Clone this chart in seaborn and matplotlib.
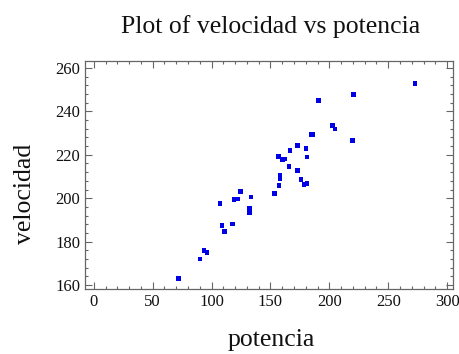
import matplotlib
matplotlib.use("Agg")
import matplotlib.pyplot as plt
import seaborn as sns
import pandas as pd
from matplotlib.ticker import MultipleLocator

potencia = [72, 90, 93.5, 96, 107, 109, 111, 118, 119, 122, 124.6, 133.6, 132, 132,
            153.6, 157.3, 158, 158, 157, 160.2, 162.4, 165.8, 166.7, 172.9, 172.9,
            176, 178.6, 181.1, 180.2, 181.1, 184.5, 185.9, 190.7, 202.8, 204.8,
            220.3, 219.7, 272.6]
velocidad = [163, 172, 176, 175, 197.5, 187.5, 184.6, 188.2, 199.5, 199.6, 203.2, 200.6,
             195.3, 193.3, 202.1, 205.9, 209.2, 210.6, 219.1, 217.9, 218, 214.7, 221.9,
             224.4, 212.9, 208.5, 206.2, 206.7, 222.8, 219, 229.3, 229.3, 244.9, 233.6,
             231.9, 247.9, 226.5, 252.8]
xticks = [0, 50, 100, 150, 200, 250, 300]
yticks = [160, 180, 200, 220, 240, 260]

df = pd.DataFrame({"potencia": potencia, "velocidad": velocidad})

sns.set_style("ticks")
plt.rcParams['font.family'] = ['Liberation Serif', 'DejaVu Serif']

fig = plt.figure(figsize=(4.59, 3.54), dpi=100)
ax = fig.add_axes([85/459, 1-289/354, (453-85)/459, (289-61)/354])

sns.scatterplot(data=df, x="potencia", y="velocidad", ax=ax, marker="s", s=11,
                color="#0000e6", edgecolor="none", linewidth=0)

ax.set_xlim(-7.5, 305)
ax.set_ylim(158.2, 263.2)
ax.set_xticks(xticks)
ax.set_yticks(yticks)
ax.xaxis.set_minor_locator(MultipleLocator(10))
ax.yaxis.set_minor_locator(MultipleLocator(4))
ax.tick_params(which="both", direction="in", top=True, right=True, color="#666666",
               labelsize=12, labelcolor="#111111", width=0.8)
ax.tick_params(which="major", length=5)
ax.tick_params(which="minor", length=2.5)
for sp in ax.spines.values():
    sp.set_color("#666666")
    sp.set_linewidth(0.9)

ax.set_xlabel("")
ax.set_ylabel("")
fig.text(271/459, 1-33/354, "Plot of velocidad vs potencia", ha="center", va="baseline",
         fontsize=18.5, color="#111111")
fig.text(271/459, 1-346/354, "potencia", ha="center", va="baseline", fontsize=18.5,
         color="#111111")
fig.text(25/459, 1-194/354, "velocidad", ha="center", va="center", rotation=90,
         fontsize=18.5, color="#111111")

fig.savefig("out.png", dpi=100, facecolor="white")
